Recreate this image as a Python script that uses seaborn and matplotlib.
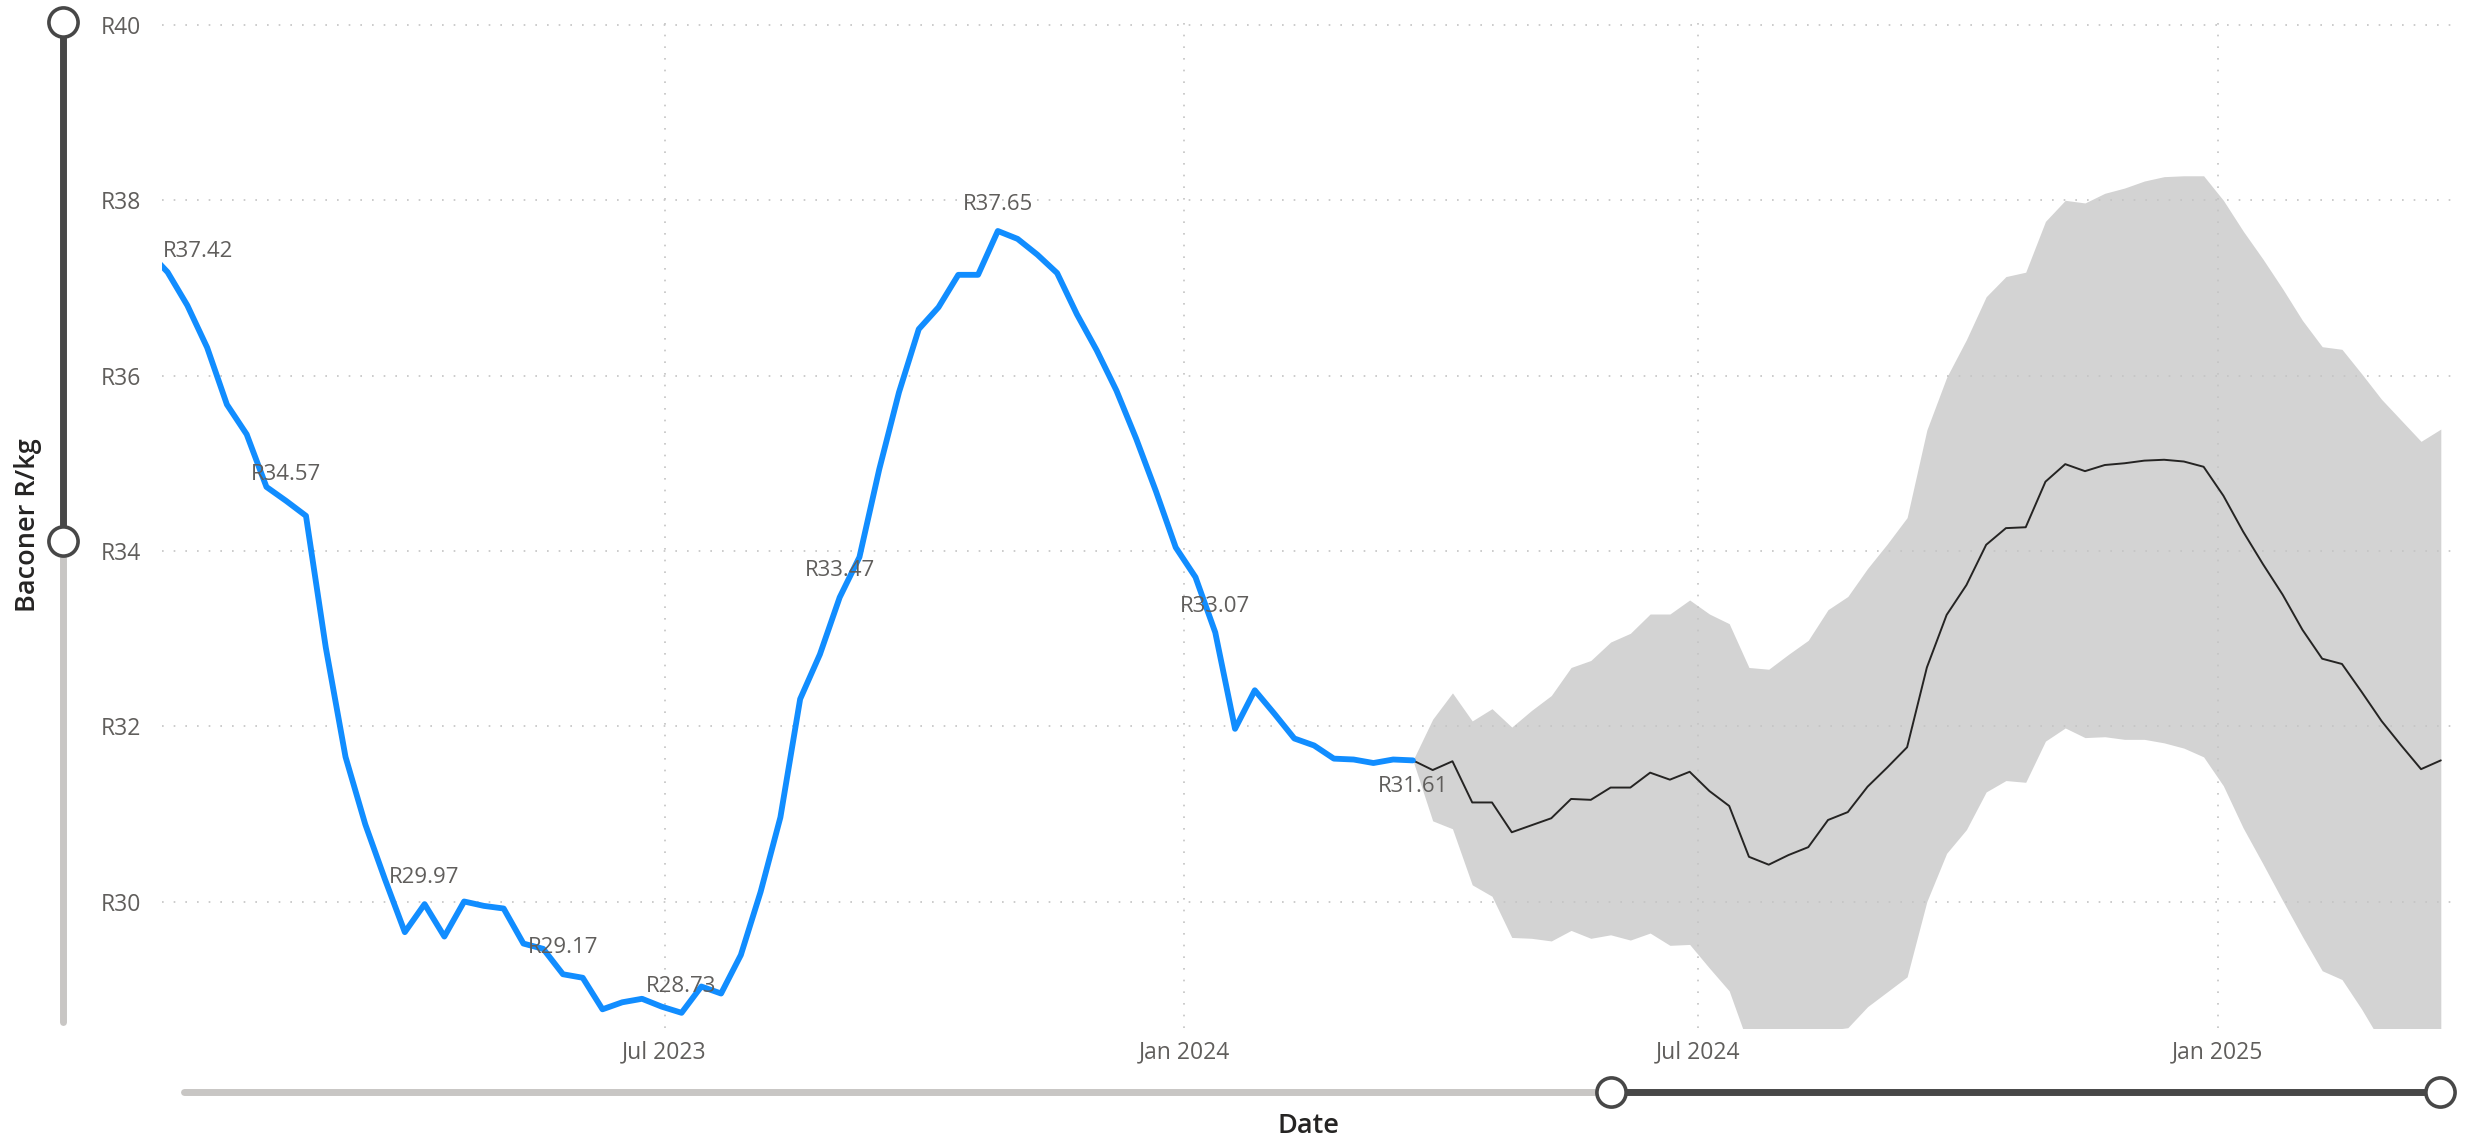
import matplotlib
matplotlib.use("Agg")
import matplotlib.pyplot as plt
import matplotlib.dates as mdates
from matplotlib.lines import Line2D
from matplotlib.ticker import FuncFormatter
import pandas as pd
import seaborn as sns

# weekly baconer price (actuals)
hist_end = "2024-03-22"
hist_price = [
    37.42, 37.18, 36.80, 36.32, 35.67, 35.33, 34.73, 34.57, 34.40, 32.90,
    31.65, 30.88, 30.25, 29.65, 29.97, 29.60, 30.00, 29.95, 29.92, 29.52,
    29.46, 29.17, 29.13, 28.77, 28.85, 28.89, 28.80, 28.73, 29.03, 28.95,
    29.39, 30.11, 30.96, 32.31, 32.82, 33.47, 33.93, 34.93, 35.81, 36.53,
    36.78, 37.15, 37.15, 37.65, 37.56, 37.38, 37.17, 36.70, 36.29, 35.83,
    35.28, 34.68, 34.04, 33.70, 33.07, 31.97, 32.41, 32.14, 31.86, 31.78,
    31.63, 31.62, 31.58, 31.62, 31.61,
]
# points that carry a data label
label_idx = [0, 7, 14, 21, 27, 35, 43, 54, 64]

# forecast (starts at last actual)
fc_mean = [
    31.61, 31.50, 31.60, 31.13, 31.13, 30.79, 30.87, 30.95, 31.17, 31.16,
    31.30, 31.30, 31.47, 31.39, 31.48, 31.26, 31.09, 30.51, 30.42, 30.53,
    30.62, 30.93, 31.02, 31.31, 31.53, 31.76, 32.67, 33.27, 33.61, 34.07,
    34.26, 34.27, 34.79, 34.99, 34.91, 34.98, 35.00, 35.03, 35.04, 35.02,
    34.96, 34.63, 34.22, 33.85, 33.50, 33.10, 32.77, 32.71, 32.39, 32.06,
    31.78, 31.51, 31.61,
]
fc_upper = [
    31.61, 32.08, 32.38, 32.06, 32.20, 31.99, 32.18, 32.35, 32.67, 32.75,
    32.96, 33.06, 33.28, 33.28, 33.44, 33.28, 33.17, 32.67, 32.65, 32.82,
    32.98, 33.33, 33.48, 33.80, 34.08, 34.38, 35.38, 35.98, 36.41, 36.90,
    37.13, 37.18, 37.76, 38.00, 37.97, 38.08, 38.14, 38.22, 38.27, 38.28,
    38.28, 38.00, 37.65, 37.33, 36.99, 36.63, 36.33, 36.30, 36.02, 35.73,
    35.49, 35.25, 35.39,
]
fc_lower = [
    31.61, 30.92, 30.83, 30.19, 30.06, 29.59, 29.58, 29.55, 29.67, 29.58,
    29.62, 29.56, 29.64, 29.50, 29.51, 29.24, 28.98, 28.35, 28.19, 28.24,
    28.26, 28.53, 28.56, 28.80, 28.97, 29.14, 30.00, 30.55, 30.82, 31.25,
    31.38, 31.36, 31.83, 31.98, 31.87, 31.88, 31.85, 31.85, 31.81, 31.75,
    31.65, 31.32, 30.84, 30.43, 30.01, 29.60, 29.21, 29.11, 28.77, 28.39,
    28.07, 27.77, 27.83,
]

x_ticks = ["2023-07-01", "2024-01-01", "2024-07-01", "2025-01-01"]
y_ticks = [30, 32, 34, 36, 38, 40]

hist = pd.DataFrame({
    "date": pd.date_range(end=hist_end, periods=len(hist_price), freq="7D"),
    "price": hist_price,
})
fc = pd.DataFrame({
    "date": pd.date_range(start=hist_end, periods=len(fc_mean), freq="7D"),
    "mean": fc_mean,
    "upper": fc_upper,
    "lower": fc_lower,
})

sns.set_theme(style="white")
plt.rcParams["font.family"] = ["Open Sans", "DejaVu Sans"]

BLUE = "#118DFF"
DARK = "#252423"
TICK = "#605E5C"
GRID = "#C4C4C4"
TRACK_DARK = "#474747"
TRACK_LIGHT = "#C8C6C4"

fig = plt.figure(figsize=(24.69, 11.47), dpi=100)
ax = fig.add_axes([0.0656, 0.104, 0.9287, 0.878])

ax.fill_between(fc["date"], fc["lower"], fc["upper"], color="#D3D3D3", lw=0, zorder=1)
sns.lineplot(data=fc, x="date", y="mean", ax=ax, color=DARK, lw=1.4, zorder=3)
sns.lineplot(data=hist, x="date", y="price", ax=ax, color=BLUE, lw=4.2, zorder=4)

# data labels
x_left = pd.Timestamp("2023-01-04")
for i in label_idx:
    d, v = hist["date"][i], hist["price"][i]
    txt = f"R{v:.2f}"
    if i == 0:
        ax.annotate(txt, (x_left, v), xytext=(1, 0), textcoords="offset points",
                    ha="left", va="center", fontsize=16, color=TICK, zorder=5)
    elif i == len(hist_price) - 1:
        ax.annotate(txt, (d, v), xytext=(0, -19), textcoords="offset points",
                    ha="center", va="center", fontsize=16, color=TICK, zorder=5)
    else:
        ax.annotate(txt, (d, v), xytext=(0, 19), textcoords="offset points",
                    ha="center", va="center", fontsize=16, color=TICK, zorder=5)

ax.set_xlim(x_left, pd.Timestamp("2025-03-26"))
ax.set_ylim(28.56, 40.05)
ax.set_xticks(pd.to_datetime(x_ticks))
ax.xaxis.set_major_formatter(mdates.DateFormatter("%b %Y"))
ax.set_yticks(y_ticks)
ax.yaxis.set_major_formatter(FuncFormatter(lambda v, _: f"R{v:.0f}"))
ax.tick_params(axis="x", length=0, pad=9, labelsize=16.5, labelcolor=TICK)
ax.tick_params(axis="y", length=0, pad=15, labelsize=16.5, labelcolor=TICK)
ax.grid(True, color=GRID, lw=1.2, linestyle=(0, (1, 6)))
ax.set_axisbelow(False)
for gl in ax.get_xgridlines() + ax.get_ygridlines():
    gl.set_zorder(2)
for s in ax.spines.values():
    s.set_visible(False)
ax.set_xlabel("")
ax.set_ylabel("")

# axis titles
fig.text(0.530, 0.018, "Date", ha="center", va="center", fontsize=19.5,
         color=DARK, fontweight="semibold")
fig.text(0.0113, 0.542, "Baconer R/kg", ha="center", va="center", rotation=90,
         fontsize=19.5, color=DARK, fontweight="semibold")

# zoom sliders (report chrome)
W, H = 2469, 1147


def fx(px):
    return px / W


def fy(py):
    return 1 - py / H


sx = fx(63)
fig.add_artist(Line2D([sx, sx], [fy(541), fy(1022)], color=TRACK_LIGHT, lw=5,
                      solid_capstyle="round", transform=fig.transFigure))
fig.add_artist(Line2D([sx, sx], [fy(22), fy(541)], color=TRACK_DARK, lw=5,
                      transform=fig.transFigure))
fig.add_artist(Line2D([sx, sx], [fy(22), fy(541)], lw=0, marker="o", ms=21,
                      mfc="white", mec=TRACK_DARK, mew=2.6, transform=fig.transFigure))

by = fy(1092)
fig.add_artist(Line2D([fx(184), fx(1611)], [by, by], color=TRACK_LIGHT, lw=5,
                      solid_capstyle="round", transform=fig.transFigure))
fig.add_artist(Line2D([fx(1611), fx(2440)], [by, by], color=TRACK_DARK, lw=5,
                      transform=fig.transFigure))
fig.add_artist(Line2D([fx(1611), fx(2440)], [by, by], lw=0, marker="o", ms=21,
                      mfc="white", mec=TRACK_DARK, mew=2.6, transform=fig.transFigure))

fig.savefig("out.png", dpi=100, facecolor="white")
